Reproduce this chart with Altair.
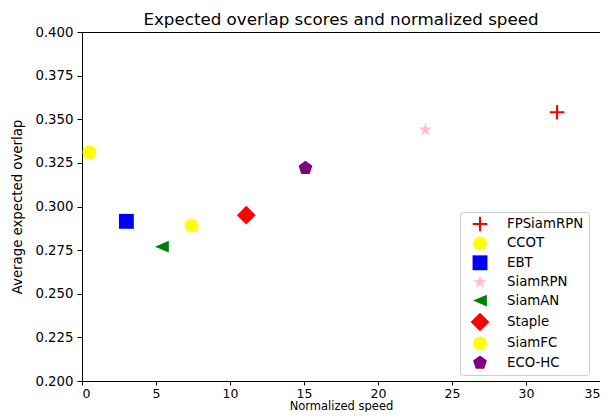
import altair as alt
import pandas as pd

trackers = ["FPSiamRPN", "CCOT", "EBT", "SiamRPN", "SiamAN", "Staple", "SiamFC", "ECO-HC"]
speed = [32.1, 0.5, 3.0, 23.2, 5.4, 11.1, 7.4, 15.1]
overlap = [0.354, 0.331, 0.2915, 0.344, 0.277, 0.295, 0.289, 0.322]
colors = ["red", "yellow", "blue", "pink", "green", "red", "yellow", "purple"]

plus = "M-1.06,-0.15H-0.15V-1.06H0.15V-0.15H1.06V0.15H0.15V1.06H-0.15V0.15H-1.06Z"
circle = "circle"
square = "M-1.08,-1.08H1.08V1.08H-1.08Z"
star = ("M0,-1L0.235,-0.324L0.951,-0.309L0.38,0.124L0.588,0.809L0,0.4L-0.588,0.809"
        "L-0.38,0.124L-0.951,-0.309L-0.235,-0.324Z")
tri_left = "M-1,0L1,-0.85L1,0.85Z"
diamond = "M0,-1.36L1.36,0L0,1.36L-1.36,0Z"
pentagon = "M0,-1.05L1,-0.325L0.617,0.85L-0.617,0.85L-1,-0.325Z"
shapes = [plus, circle, square, star, tri_left, diamond, circle, pentagon]

df = pd.DataFrame({"tracker": trackers, "speed": speed, "overlap": overlap})

font = "DejaVu Sans"

legend_kw = dict(title=None, orient="none", legendX=378, legendY=180)

chart = alt.Chart(df).mark_point(filled=True, opacity=1, size=190).encode(
    x=alt.X("speed:Q", title="Normalized speed",
            scale=alt.Scale(domain=[0, 35], nice=False, zero=False),
            axis=alt.Axis(values=[0, 5, 10, 15, 20, 25, 30, 35], format="d",
                          tickSize=4, labelFontSize=12.5, labelPadding=2,
                          titlePadding=1, titleFontSize=11.5)),
    y=alt.Y("overlap:Q", title="Average expected overlap",
            scale=alt.Scale(domain=[0.2, 0.4], nice=False, zero=False),
            axis=alt.Axis(values=[0.2, 0.225, 0.25, 0.275, 0.3, 0.325, 0.35, 0.375, 0.4],
                          format=".3f", tickSize=5, labelPadding=4, titlePadding=10)),
    color=alt.Color("tracker:N", sort=trackers,
                    scale=alt.Scale(domain=trackers, range=colors),
                    legend=alt.Legend(**legend_kw)),
    shape=alt.Shape("tracker:N", sort=trackers,
                    scale=alt.Scale(domain=trackers, range=shapes),
                    legend=alt.Legend(**legend_kw)),
).properties(
    width=518, height=349,
    title=alt.TitleParams("Expected overlap scores and normalized speed",
                          font=font, fontSize=16.7, fontWeight="normal", color="black",
                          offset=3, frame="group", dy=7),
    padding={"left": 74, "top": 24, "right": 0, "bottom": 31},
    autosize=alt.AutoSizeParams(type="none"),
).configure_view(
    stroke="black", strokeWidth=1
).configure_axis(
    grid=False, domainColor="black", tickColor="black",
    labelFont=font, labelFontSize=13.3, labelColor="black",
    titleFont=font, titleFontSize=13.3, titleFontWeight="normal", titleColor="black",
).configure_legend(
    labelFont=font, labelFontSize=13.3, labelColor="black",
    strokeColor="#cccccc", fillColor="white", cornerRadius=3, padding=5,
    symbolOffset=8, rowPadding=4.4, symbolSize=190, symbolOpacity=1, labelOffset=20,
    symbolStrokeWidth=0,
)

chart.save("out.html", embed_options={"renderer": "svg", "actions": False})
